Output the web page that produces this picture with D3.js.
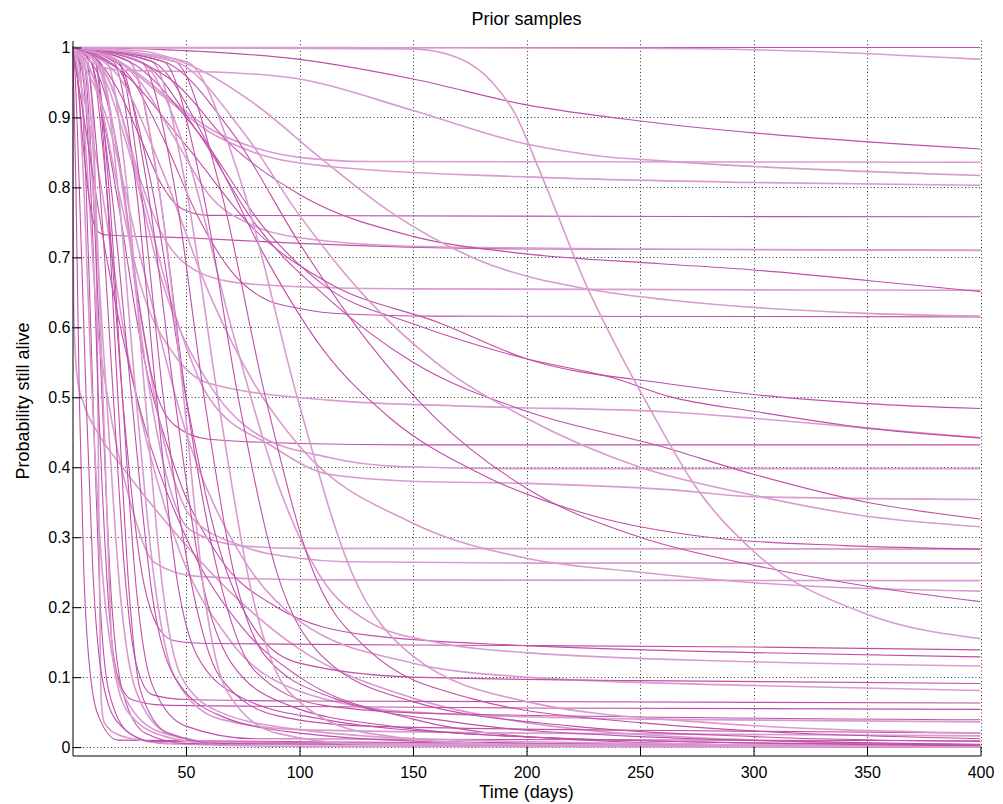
<!DOCTYPE html>
<html>
<head>
<meta charset="utf-8">
<script src="https://cdn.jsdelivr.net/npm/d3@7"></script>
<style>
  body { margin: 0; background: #fff; }
  text { font-family: "Liberation Sans", Arial, sans-serif; }
</style>
</head>
<body>
<svg id="chart" width="1003" height="804"></svg>
<script>
// tick values
const xTicks = [50, 100, 150, 200, 250, 300, 350, 400];
const yTicks = [0, 0.1, 0.2, 0.3, 0.4, 0.5, 0.6, 0.7, 0.8, 0.9, 1];
const yTickLabels = ["0", "0.1", "0.2", "0.3", "0.4", "0.5", "0.6", "0.7", "0.8", "0.9", "1"];

// prior sample curves as [days, probability] knots
const curves = [
  [[0,1],[400,1]],
  [[0,1],[0.2,0.8],[0.5,0.63],[2,0.53],[5,0.49],[11,0.45],[22,0.4],[33,0.354],[48,0.296],[70,0.22],[100,0.14],[150,0.07],[200,0.035],[300,0.01],[400,0.003]],
  [[0,1],[0.5,0.95],[1.5,0.8],[3,0.5],[5,0.25],[8,0.1],[12,0.04],[20,0.01],[400,0]],
  [[0,1],[3,0.98],[6,0.8],[9,0.5],[12,0.22],[16,0.08],[25,0.02],[40,0.005],[400,0]],
  [[0,1],[40,0.997],[100,0.983],[150,0.955],[200,0.918],[250,0.895],[300,0.878],[400,0.855]],
  [[0,1],[6,0.99],[9,0.9],[10.5,0.7],[11.3,0.45],[12,0.2],[12.6,0.07],[14,0.035],[20,0.018],[30,0.01],[50,0.004],[100,0.001],[400,0]],
  [[0,1],[1,0.97],[3,0.8],[6,0.5],[9,0.25],[13,0.1],[20,0.035],[35,0.008],[400,0]],
  [[0,1],[4,0.97],[8,0.8],[12,0.45],[16,0.2],[20,0.1],[26,0.068],[40,0.06],[100,0.058],[200,0.056],[400,0.054]],
  [[0,1],[15,0.99],[30,0.96],[45,0.92],[60,0.885],[80,0.857],[100,0.843],[130,0.837],[400,0.836]],
  [[0,1],[5,0.98],[9,0.8],[13,0.5],[17,0.22],[22,0.08],[32,0.02],[50,0.005],[400,0]],
  [[0,1],[2,0.97],[5,0.8],[8,0.55],[12,0.3],[17,0.14],[25,0.06],[40,0.02],[70,0.005],[400,0]],
  [[0,1],[3,0.97],[7,0.8],[11,0.6],[15,0.51],[26,0.344],[36,0.264],[55,0.244],[111,0.239],[400,0.238]],
  [[0,1],[2,0.96],[5,0.85],[8,0.77],[11,0.737],[15,0.732],[50,0.728],[100,0.72],[200,0.712],[400,0.71]],
  [[0,1],[4,0.98],[9,0.8],[15,0.5],[21,0.22],[28,0.08],[42,0.02],[70,0.004],[400,0]],
  [[0,1],[10,0.85],[25,0.55],[45,0.3],[70,0.15],[100,0.08],[150,0.05],[250,0.04],[400,0.036]],
  [[0,1],[5,0.9],[15,0.7],[30,0.48],[50,0.3],[75,0.17],[100,0.1],[150,0.04],[200,0.015],[300,0.003],[400,0.001]],
  [[0,1],[6,0.98],[12,0.8],[18,0.5],[23,0.25],[28,0.12],[35,0.075],[50,0.068],[100,0.066],[400,0.063]],
  [[0,1],[5,0.98],[10,0.8],[14,0.45],[17.5,0.14],[20.5,0.08],[26,0.044],[41,0.015],[60,0.006],[400,0]],
  [[0,1],[10,0.98],[16,0.8],[22,0.5],[28,0.23],[35,0.09],[50,0.03],[80,0.012],[400,0.009]],
  [[0,1],[8,0.98],[15,0.8],[22,0.5],[30,0.26],[38,0.17],[45,0.152],[60,0.148],[150,0.146],[300,0.143],[400,0.139]],
  [[0,1],[10,0.98],[15,0.8],[20,0.5],[25,0.22],[30,0.08],[42,0.02],[65,0.005],[400,0]],
  [[0,1],[10,0.95],[20,0.78],[30,0.58],[45,0.4],[65,0.27],[90,0.2],[130,0.16],[200,0.145],[300,0.135],[400,0.129]],
  [[0,1],[10,0.985],[20,0.92],[30,0.81],[40,0.73],[50,0.69],[70,0.665],[100,0.658],[150,0.655],[400,0.653]],
  [[0,1],[10,0.98],[20,0.85],[30,0.62],[40,0.44],[52,0.33],[75,0.287],[100,0.27],[120,0.265],[200,0.263],[400,0.263]],
  [[0,1],[10,0.97],[20,0.85],[28,0.66],[35,0.53],[45,0.46],[60,0.44],[100,0.434],[150,0.432],[400,0.432]],
  [[0,1],[12,0.98],[20,0.8],[28,0.5],[36,0.24],[45,0.1],[65,0.04],[100,0.025],[200,0.02],[400,0.016]],
  [[0,1],[8,0.98],[17,0.8],[26,0.5],[35,0.22],[45,0.1],[65,0.045],[100,0.02],[160,0.008],[400,0]],
  [[0,1],[12,0.97],[22,0.8],[32,0.55],[42,0.38],[52,0.31],[74,0.288],[100,0.284],[400,0.283]],
  [[0,1],[10,0.95],[20,0.8],[30,0.66],[45,0.56],[60,0.52],[113,0.496],[176,0.487],[263,0.479],[300,0.47],[350,0.456],[400,0.442]],
  [[0,1],[15,0.9],[30,0.7],[50,0.45],[75,0.27],[100,0.18],[150,0.12],[200,0.1],[300,0.088],[400,0.081]],
  [[0,1],[10,0.98],[25,0.85],[40,0.66],[60,0.52],[80,0.45],[113,0.414],[144,0.401],[200,0.398],[400,0.398]],
  [[0,1],[15,0.98],[24,0.8],[32,0.5],[40,0.22],[48,0.1],[65,0.05],[100,0.025],[170,0.01],[400,0.001]],
  [[0,1],[20,0.98],[30,0.8],[40,0.5],[52,0.24],[65,0.1],[90,0.045],[130,0.03],[250,0.024],[400,0.02]],
  [[0,1],[10,0.985],[20,0.94],[30,0.87],[40,0.8],[48,0.77],[60,0.76],[400,0.758]],
  [[0,1],[18,0.98],[28,0.8],[37,0.5],[46,0.24],[55,0.13],[75,0.07],[110,0.04],[180,0.018],[300,0.006],[400,0.003]],
  [[0,1],[15,0.96],[30,0.8],[45,0.62],[60,0.5],[88,0.43],[113,0.39],[150,0.38],[200,0.377],[263,0.368],[300,0.358],[400,0.354]],
  [[0,1],[20,0.97],[35,0.8],[50,0.5],[65,0.28],[80,0.17],[100,0.12],[150,0.1],[250,0.095],[400,0.091]],
  [[0,1],[25,0.98],[38,0.8],[50,0.5],[64,0.25],[80,0.11],[110,0.06],[160,0.048],[400,0.039]],
  [[0,1],[20,0.98],[33,0.8],[45,0.5],[57,0.24],[70,0.12],[95,0.06],[140,0.03],[220,0.012],[400,0.002]],
  [[0,1],[20,0.96],[40,0.82],[60,0.65],[80,0.52],[100,0.43],[150,0.32],[200,0.27],[250,0.25],[300,0.235],[400,0.223]],
  [[0,1],[10,0.995],[25,0.96],[40,0.87],[55,0.76],[70,0.68],[85,0.64],[100,0.627],[120,0.619],[160,0.616],[400,0.615]],
  [[0,1],[20,0.98],[40,0.93],[60,0.88],[80,0.85],[113,0.83],[200,0.815],[300,0.807],[400,0.803]],
  [[0,1],[25,0.98],[38,0.8],[49,0.5],[58,0.22],[68,0.08],[90,0.02],[130,0.004],[400,0]],
  [[0,1],[20,0.97],[50,0.86],[80,0.74],[113,0.663],[162,0.606],[201,0.554],[263,0.519],[300,0.504],[350,0.491],[400,0.484]],
  [[0,1],[15,0.99],[30,0.95],[45,0.87],[60,0.79],[80,0.745],[100,0.728],[150,0.716],[250,0.712],[400,0.71]],
  [[0,1],[25,0.98],[55,0.88],[85,0.74],[113,0.655],[150,0.605],[200,0.555],[238,0.528],[263,0.501],[300,0.48],[350,0.456],[400,0.442]],
  [[0,1],[30,0.98],[45,0.8],[58,0.5],[71,0.25],[85,0.13],[115,0.07],[170,0.035],[250,0.015],[400,0.004]],
  [[0,1],[30,0.98],[55,0.88],[80,0.75],[113,0.64],[150,0.55],[200,0.48],[259,0.43],[300,0.39],[350,0.35],[400,0.326]],
  [[0,1],[30,0.98],[50,0.85],[70,0.6],[90,0.38],[110,0.24],[130,0.18],[160,0.15],[200,0.135],[300,0.122],[400,0.116]],
  [[0,1],[35,0.98],[50,0.8],[64,0.5],[79,0.22],[95,0.08],[130,0.02],[190,0.004],[400,0]],
  [[0,1],[35,0.98],[60,0.86],[85,0.7],[110,0.57],[140,0.47],[180,0.39],[230,0.33],[280,0.3],[340,0.288],[400,0.283]],
  [[0,1],[8,0.98],[20,0.968],[70,0.964],[100,0.955],[150,0.91],[200,0.862],[232,0.845],[259,0.838],[300,0.83],[400,0.817]],
  [[0,1],[40,0.98],[57,0.8],[73,0.5],[90,0.25],[110,0.13],[150,0.065],[220,0.03],[300,0.015],[400,0.008]],
  [[0,1],[40,0.98],[70,0.88],[100,0.72],[130,0.58],[160,0.47],[200,0.37],[250,0.3],[300,0.26],[350,0.23],[400,0.208]],
  [[0,1],[20,0.99],[45,0.95],[70,0.86],[100,0.79],[150,0.73],[200,0.705],[259,0.691],[300,0.682],[350,0.667],[400,0.651]],
  [[0,1],[45,0.98],[65,0.8],[85,0.5],[105,0.26],[130,0.14],[175,0.07],[250,0.035],[400,0.012]],
  [[0,1],[45,0.98],[75,0.88],[100,0.76],[130,0.64],[160,0.55],[200,0.47],[250,0.4],[300,0.36],[350,0.33],[400,0.315]],
  [[0,1],[50,0.98],[75,0.8],[99,0.5],[123,0.25],[150,0.13],[200,0.065],[280,0.035],[400,0.02]],
  [[0,1],[30,0.995],[55,0.97],[80,0.92],[110,0.84],[140,0.765],[179,0.696],[228,0.654],[263,0.639],[350,0.62],[400,0.616]],
  [[0,1],[250,0.999],[320,0.995],[400,0.983]],
  [[0,1],[150,0.998],[170,0.985],[185,0.95],[195,0.905],[205,0.83],[215,0.75],[225,0.67],[240,0.57],[255,0.48],[275,0.37],[300,0.28],[350,0.19],[400,0.155]]
];
// d = darker magenta, l = lighter pink
const curveShade = [
  "d","l","d","d","d","l","d","d","l","d",
  "l","l","d","l","l","d","d","l","d","d",
  "d","d","l","l","d","l","d","l","l","l",
  "l","l","d","d","d","l","d","d","d","l",
  "d","l","l","d","l","d","d","d","l","l",
  "d","l","d","d","d","d","l","l","l","l",
  "l"
];

const svg = d3.select("svg#chart");
const x = d3.scaleLinear().domain([0, 400]).range([72.5, 980.5]);
const y = d3.scaleLinear().domain([-0.012, 1.01]).range([755.5, 40.5]);

// dotted grid
const grid = svg.append("g")
  .attr("stroke", "#333")
  .attr("stroke-width", 1)
  .attr("stroke-dasharray", "1,2.5");
grid.selectAll("line.gx").data(xTicks).join("line")
  .attr("class", "gx")
  .attr("x1", d => Math.round(x(d)) + 0.5).attr("x2", d => Math.round(x(d)) + 0.5)
  .attr("y1", y.range()[1]).attr("y2", y.range()[0]);
grid.selectAll("line.gy").data(yTicks).join("line")
  .attr("class", "gy")
  .attr("x1", x.range()[0]).attr("x2", x.range()[1])
  .attr("y1", d => Math.round(y(d)) + 0.5).attr("y2", d => Math.round(y(d)) + 0.5);

svg.append("clipPath").attr("id", "plot-clip")
  .append("rect")
  .attr("x", x.range()[0]).attr("y", y.range()[1])
  .attr("width", x.range()[1] - x.range()[0])
  .attr("height", y.range()[0] - y.range()[1]);

const line = d3.line()
  .x(d => x(d[0]))
  .y(d => y(d[1]))
  .curve(d3.curveMonotoneX);

svg.append("g")
  .attr("clip-path", "url(#plot-clip)")
  .attr("fill", "none")
  .selectAll("path")
  .data(curves)
  .join("path")
  .attr("d", line)
  .attr("stroke", (_d, i) => curveShade[i] == "d" ? "#c04fa8" : "#d99bcf")
  .attr("stroke-width", (_d, i) => curveShade[i] == "d" ? 1.1 : 1.6);

// axes, ticks pointing inward
const xAxis = svg.append("g")
  .attr("transform", `translate(0, ${y.range()[0]})`)
  .call(d3.axisBottom(x).tickValues(xTicks).tickSize(-9).tickSizeOuter(0).tickPadding(11));
const yAxis = svg.append("g")
  .attr("transform", `translate(${x.range()[0]}, 0)`)
  .call(d3.axisLeft(y).tickValues(yTicks).tickSize(-9).tickSizeOuter(0).tickPadding(2)
    .tickFormat((_d, i) => yTickLabels[i]));
[xAxis, yAxis].forEach(g => {
  g.attr("font-size", 16).attr("font-family", "'Liberation Sans', Arial, sans-serif");
  g.selectAll("text").attr("fill", "#000");
  g.selectAll("line, path").attr("stroke", "#000");
});

svg.append("text")
  .attr("x", (x.range()[0] + x.range()[1]) / 2)
  .attr("y", 25)
  .attr("text-anchor", "middle")
  .attr("font-size", 18)
  .text("Prior samples");

svg.append("text")
  .attr("x", (x.range()[0] + x.range()[1]) / 2)
  .attr("y", 798)
  .attr("text-anchor", "middle")
  .attr("font-size", 18)
  .text("Time (days)");

svg.append("text")
  .attr("transform", "translate(29, 401) rotate(-90)")
  .attr("text-anchor", "middle")
  .attr("font-size", 18)
  .text("Probability still alive");
</script>
</body>
</html>
